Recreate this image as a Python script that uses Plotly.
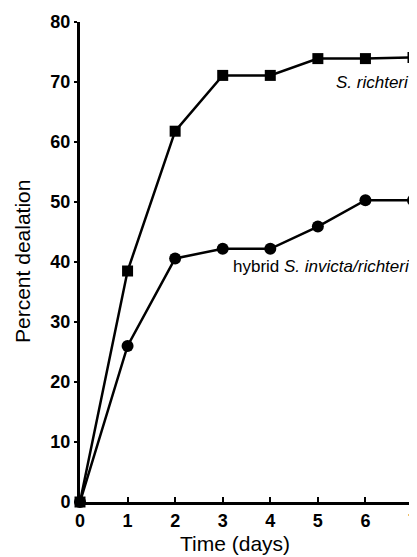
import plotly.graph_objects as go

days = [0, 1, 2, 3, 4, 5, 6, 7]
richteri = [0, 38.5, 61.8, 71.1, 71.1, 73.9, 73.9, 74.1]
hybrid = [0, 26.0, 40.6, 42.2, 42.2, 45.9, 50.3, 50.3]
y_ticks = [0, 10, 20, 30, 40, 50, 60, 70, 80]
x_ticks = [0, 1, 2, 3, 4, 5, 6, 7]

fig = go.Figure()
fig.add_trace(go.Scatter(
    x=days, y=hybrid, mode="lines+markers",
    line=dict(color="black", width=2.5),
    marker=dict(symbol="circle", size=12, color="black"),
    cliponaxis=False, showlegend=False))
fig.add_trace(go.Scatter(
    x=days, y=richteri, mode="lines+markers",
    line=dict(color="black", width=2.5),
    marker=dict(symbol="square", size=11, color="black"),
    cliponaxis=False, showlegend=False))

fig.add_annotation(x=7, y=70, xref="x", yref="y", text="<i>S. richteri</i>",
                   showarrow=False, xanchor="right", yanchor="middle", xshift=-2,
                   font=dict(family="Liberation Sans, Arial", size=17, color="black"))
fig.add_annotation(x=7, y=39.2, xref="x", yref="y", text="hybrid <i>S. invicta/richteri</i>",
                   showarrow=False, xanchor="right", yanchor="middle", xshift=-1,
                   font=dict(family="Liberation Sans, Arial", size=17, color="black"))
# axis titles
fig.add_annotation(x=0, y=0.5, xref="paper", yref="paper", text="Percent dealation",
                   showarrow=False, textangle=-90, xanchor="center", yanchor="middle",
                   xshift=-58, font=dict(family="Liberation Sans, Arial", size=21, color="black"))
fig.add_annotation(x=0.5, y=0, xref="paper", yref="paper", text="Time (days)",
                   showarrow=False, xanchor="center", yanchor="middle",
                   xshift=-12, yshift=-41, font=dict(family="Liberation Sans, Arial", size=21, color="black"))

fig.update_layout(
    width=417, height=557,
    margin=dict(l=72, r=12, t=14, b=63, autoexpand=False),
    paper_bgcolor="white", plot_bgcolor="white",
    font=dict(family="Liberation Sans, Arial", color="black"),
)
fig.update_xaxes(
    range=[0, 7], tickvals=x_ticks, ticktext=[str(v) for v in x_ticks],
    showgrid=False, zeroline=False, showline=True, linecolor="black", linewidth=3,
    ticks="inside", ticklen=5, tickwidth=2, tickcolor="black", automargin=False,
    ticklabeloverflow="allow",
    tickfont=dict(family="Liberation Sans, Arial Black", size=18, color="black", weight="bold"),
)
fig.update_yaxes(
    range=[0, 80], tickvals=y_ticks, ticktext=[str(v) for v in y_ticks],
    showgrid=False, zeroline=False, showline=True, linecolor="black", linewidth=3,
    ticks="outside", ticklen=3, tickwidth=2, tickcolor="black", automargin=False,
    ticklabeloverflow="allow",
    tickfont=dict(family="Liberation Sans, Arial Black", size=18, color="black", weight="bold"),
)

fig.write_html("out.html")
